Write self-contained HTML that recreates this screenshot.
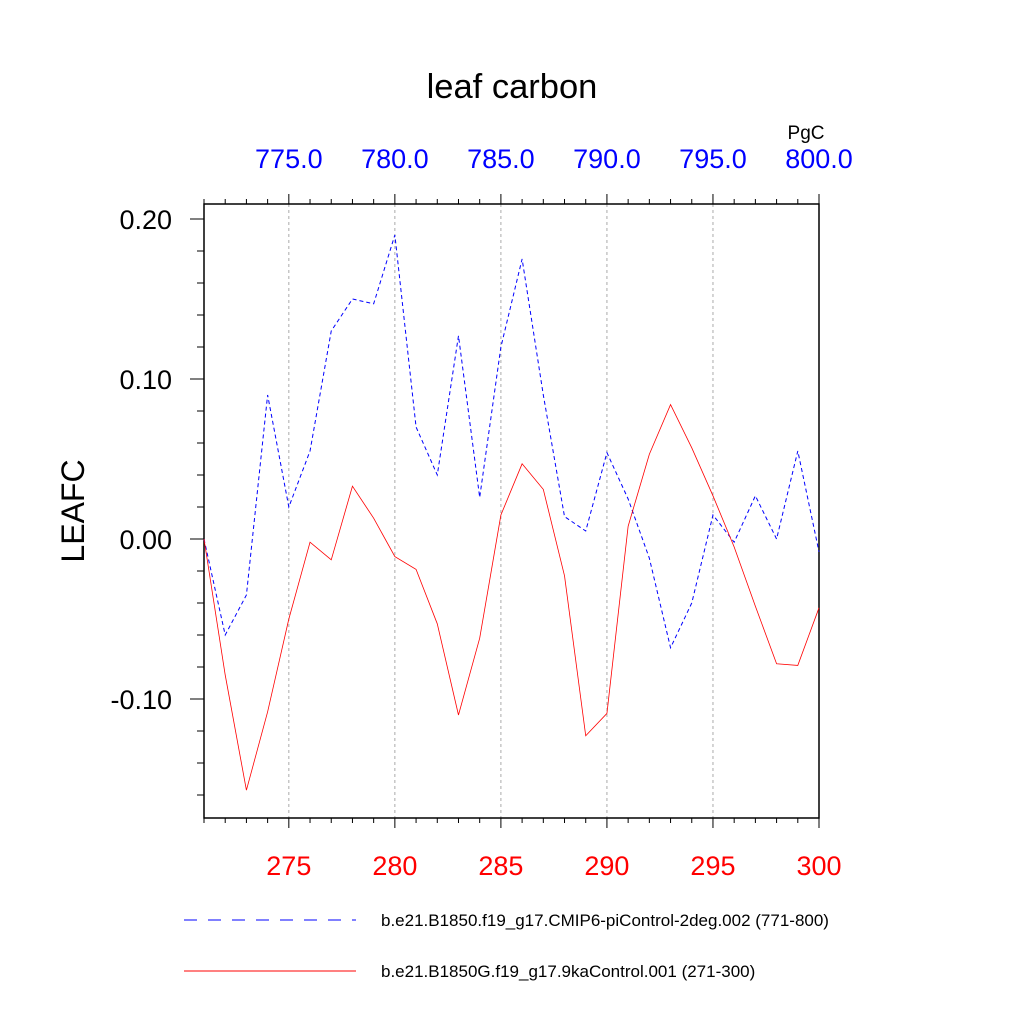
<!DOCTYPE html>
<html><head><meta charset="utf-8"><style>
body{margin:0;background:#fff}
svg text{font-family:"Liberation Sans",sans-serif}
</style></head><body>
<svg id="chart" width="1024" height="1024" xmlns="http://www.w3.org/2000/svg">
<rect width="1024" height="1024" fill="#fff"/>
<text x="512" y="98" font-size="34.5" text-anchor="middle">leaf carbon</text>
<text x="806" y="139" font-size="19" text-anchor="middle">PgC</text>
<text transform="translate(84,511) rotate(-90)" font-size="32" text-anchor="middle">LEAFC</text>
<g id="grid"></g><g id="axes"></g><g id="series"></g>
<g>
<line x1="184" y1="920" x2="356" y2="920" stroke="#00f" stroke-width="1" stroke-dasharray="13,11"/>
<text x="381" y="926" font-size="17">b.e21.B1850.f19_g17.CMIP6-piControl-2deg.002 (771-800)</text>
<line x1="184" y1="971" x2="356" y2="971" stroke="#f00" stroke-width="1"/>
<text x="381" y="977" font-size="17">b.e21.B1850G.f19_g17.9kaControl.001 (271-300)</text>
</g>
</svg>
<script>
const years=[271,272,273,274,275,276,277,278,279,280,281,282,283,284,285,286,287,288,289,290,291,292,293,294,295,296,297,298,299,300];
const blueValues=[0.0,-0.06,-0.035,0.09,0.02,0.055,0.13,0.15,0.147,0.19,0.07,0.04,0.127,0.026,0.12,0.175,0.09,0.014,0.005,0.054,0.025,-0.012,-0.068,-0.04,0.015,-0.002,0.027,0.0,0.055,-0.008];
const redValues=[0.0,-0.085,-0.157,-0.108,-0.05,-0.002,-0.013,0.033,0.013,-0.011,-0.019,-0.053,-0.11,-0.062,0.015,0.047,0.031,-0.023,-0.123,-0.109,0.008,0.053,0.084,0.057,0.027,-0.005,-0.042,-0.078,-0.079,-0.043];
const bottomTicks=[275,280,285,290,295,300];
const topTickLabels=["775.0","780.0","785.0","790.0","795.0","800.0"];
const yTicks=[0.2,0.1,0.0,-0.1];
const yTickLabels=["0.20","0.10","0.00","-0.10"];
const NS="http://www.w3.org/2000/svg";
const L=204,R=819,T=204,B=818;
const x=v=>L+(v-271)*(R-L)/29;
const y=v=>539-v*1600;
function mk(tag,attrs,parent,txt){const e=document.createElementNS(NS,tag);for(const k in attrs)e.setAttribute(k,attrs[k]);if(txt!==undefined)e.textContent=txt;parent.appendChild(e);return e;}
const grid=document.getElementById('grid'),axes=document.getElementById('axes'),ser=document.getElementById('series');
bottomTicks.forEach((t,i)=>{
 if(t<300){const g=mk('line',{x1:x(t),x2:x(t),y1:T,y2:B,stroke:'#aaa','stroke-width':1,'stroke-dasharray':'3,3'},grid);
 
 }
 const bl=mk('text',{x:x(t),y:875,'font-size':27,fill:'#f00','text-anchor':'middle'},axes,String(t));
 
 
 const tl=mk('text',{x:x(t),y:168,'font-size':27,fill:'#00f','text-anchor':'middle'},axes,topTickLabels[i]);
 
 
});
years.forEach(t=>{
 const major=t%5===0;const len=major?10:5;
 mk('line',{x1:x(t),x2:x(t),y1:B,y2:B+len,stroke:'#000'},axes);
 mk('line',{x1:x(t),x2:x(t),y1:T,y2:T-len,stroke:'#000'},axes);
});
for(let v=-0.16;v<=0.2001;v+=0.02){const major=Math.abs(Math.round(v*100)%10)===0;
 mk('line',{x1:L,x2:L-(major?14:7),y1:y(v),y2:y(v),stroke:'#000'},axes);}
yTicks.forEach((v,i)=>{const t=mk('text',{x:172,y:y(v)+10,'font-size':27,'text-anchor':'end'},axes,yTickLabels[i]);
 
 });
const frame=mk('rect',{x:L,y:T,width:R-L,height:B-T,fill:'none',stroke:'#000','stroke-width':1.5},axes);


const pts=a=>a.map((v,i)=>x(years[i])+','+y(v)).join(' ');
const bl=mk('polyline',{points:pts(blueValues),fill:'none',stroke:'#00f','stroke-width':1,'stroke-dasharray':'4,3'},ser);


const rl=mk('polyline',{points:pts(redValues),fill:'none',stroke:'#f00','stroke-width':0.8},ser);


</script>
</body></html>
